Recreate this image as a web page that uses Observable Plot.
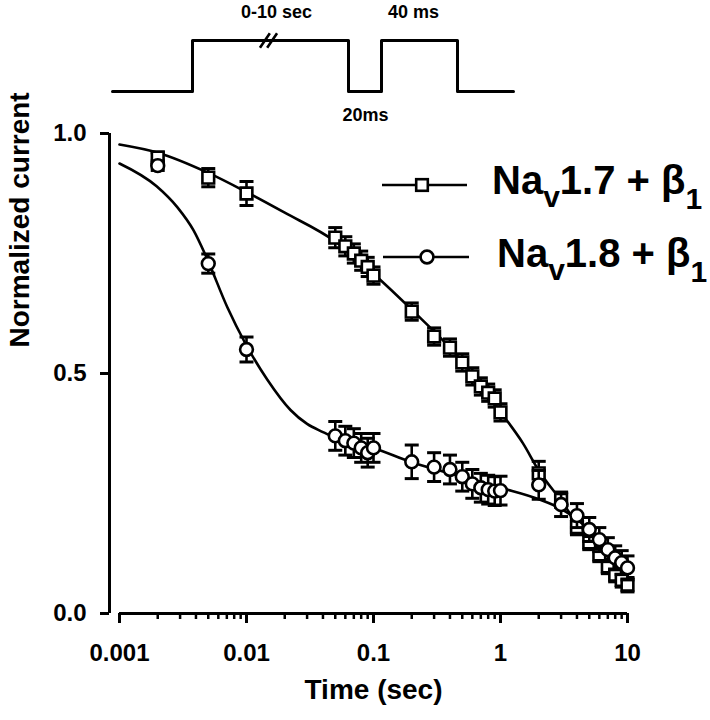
<!DOCTYPE html>
<html>
<head>
<meta charset="utf-8">
<script src="https://cdn.jsdelivr.net/npm/d3@7"></script>
<script src="https://cdn.jsdelivr.net/npm/@observablehq/plot@0.6"></script>
<style>
  html, body { margin: 0; padding: 0; background: #fff; }
  #wrap { position: relative; width: 710px; height: 720px; font-family: "Liberation Sans", Arial, Helvetica, sans-serif; }
  #wrap > * { position: absolute; left: 0; top: 0; }
</style>
</head>
<body>
<div id="wrap"></div>
<script>
// ---- Data: Nav1.7 + β1 (squares) ----
const sqT = [0.002, 0.005, 0.01, 0.05, 0.06, 0.07, 0.08, 0.09, 0.1, 0.2, 0.3, 0.4, 0.5, 0.6, 0.7, 0.8, 0.9, 1, 2, 3, 4, 5, 6, 7, 8, 9, 10];
const sqV = [0.95, 0.908, 0.875, 0.783, 0.765, 0.75, 0.735, 0.722, 0.704, 0.629, 0.577, 0.554, 0.523, 0.494, 0.473, 0.46, 0.448, 0.419, 0.292, 0.237, 0.18, 0.148, 0.123, 0.098, 0.081, 0.07, 0.06];
const sqE = [0.01, 0.019, 0.025, 0.021, 0.02, 0.02, 0.02, 0.02, 0.018, 0.018, 0.018, 0.018, 0.018, 0.018, 0.018, 0.018, 0.018, 0.018, 0.025, 0.016, 0.016, 0.015, 0.015, 0.015, 0.015, 0.015, 0.015];
// fitted curve
const sqFitT = [0.001, 0.002, 0.005, 0.01, 0.02, 0.05, 0.1, 0.2, 0.5, 1, 1.5, 2, 3, 5, 10];
const sqFitV = [0.977, 0.96, 0.918, 0.878, 0.835, 0.775, 0.708, 0.633, 0.525, 0.42, 0.355, 0.298, 0.235, 0.15, 0.062];

// ---- Data: Nav1.8 + β1 (circles) ----
const ciT = [0.002, 0.005, 0.01, 0.05, 0.06, 0.07, 0.08, 0.09, 0.1, 0.2, 0.3, 0.4, 0.5, 0.6, 0.7, 0.8, 0.9, 1, 2, 3, 4, 5, 6, 7, 8, 9, 10];
const ciV = [0.933, 0.729, 0.55, 0.37, 0.36, 0.355, 0.345, 0.335, 0.345, 0.316, 0.305, 0.3, 0.285, 0.27, 0.262, 0.258, 0.255, 0.256, 0.268, 0.227, 0.204, 0.175, 0.154, 0.133, 0.116, 0.106, 0.095];
const ciE = [0.01, 0.02, 0.026, 0.03, 0.03, 0.03, 0.03, 0.03, 0.03, 0.035, 0.03, 0.03, 0.03, 0.03, 0.03, 0.03, 0.03, 0.03, 0.03, 0.025, 0.025, 0.025, 0.025, 0.025, 0.025, 0.025, 0.025];
const ciFitT = [0.001, 0.00196, 0.00286, 0.00383, 0.00484, 0.00708, 0.0098, 0.0146, 0.0222, 0.03, 0.04, 0.05, 0.1, 0.2, 0.5, 1, 2, 3, 5, 10];
const ciFitV = [0.9375, 0.89, 0.846, 0.798, 0.742, 0.6375, 0.5625, 0.487, 0.424, 0.395, 0.378, 0.366, 0.345, 0.315, 0.285, 0.262, 0.238, 0.218, 0.175, 0.095];

// ---- Axes ----
const xTicks = [0.001, 0.01, 0.1, 1, 10];
const xTickLabels = ["0.001", "0.01", "0.1", "1", "10"];
const xMinorTicks = [0.002,0.003,0.004,0.005,0.006,0.007,0.008,0.009,
                     0.02,0.03,0.04,0.05,0.06,0.07,0.08,0.09,
                     0.2,0.3,0.4,0.5,0.6,0.7,0.8,0.9,
                     2,3,4,5,6,7,8,9];
const yTicks = [0, 0.5, 1];
const yTickLabels = ["0.0", "0.5", "1.0"];
const xTitle = "Time (sec)";
const yTitle = "Normalized current";

// ---- Protocol schematic (schematic units) ----
const protoWidths = [80, 156, 33, 76, 56];
const protoLevels = [0, 1, 0, 1, 0];
const protoLabels = ["0-10 sec", "40 ms", "20ms"];

const FONT = '"Liberation Sans", Arial, Helvetica, sans-serif';

const sq = sqT.map((t, i) => ({t, v: sqV[i], e: sqE[i]}));
const ci = ciT.map((t, i) => ({t, v: ciV[i], e: ciE[i]}));
const sqFit = sqFitT.map((t, i) => ({t, v: sqFitV[i]}));
const ciFit = ciFitT.map((t, i) => ({t, v: ciFitV[i]}));

const cap = {
  draw(ctx, size) {
    const w = Math.sqrt(size / Math.PI);
    ctx.moveTo(-w, 0); ctx.lineTo(w, 0);
  }
};
// slanted double-stroke "break" glyph for the protocol line
const breakMark = {
  draw(ctx, size) {
    const r = Math.sqrt(size / Math.PI);
    ctx.moveTo(-r * 0.95, r * 0.8); ctx.lineTo(r * 0.15, -r * 0.8);
    ctx.moveTo(-r * 0.15, r * 0.8); ctx.lineTo(r * 0.95, -r * 0.8);
  }
};

function seriesMarks(data, fit, symbol) {
  return [
    Plot.line(fit, {x: "t", y: "v", curve: "monotone-x", stroke: "black", strokeWidth: 2.6}),
    Plot.ruleX(data, {x: "t", y1: d => d.v - d.e, y2: d => d.v + d.e, stroke: "black", strokeWidth: 2.6}),
    Plot.dot(data, {x: "t", y: d => d.v + d.e, symbol: cap, r: 7, stroke: "black", strokeWidth: 3, fill: "none"}),
    Plot.dot(data, {x: "t", y: d => d.v - d.e, symbol: cap, r: 7, stroke: "black", strokeWidth: 3, fill: "none"}),
    Plot.dot(data, {x: "t", y: "v", symbol, r: symbol === "square" ? 6.6 : 6.4, fill: "white", stroke: "black", strokeWidth: 2.6})
  ];
}

const main = Plot.plot({
  width: 710, height: 720,
  marginLeft: 119, marginRight: 83, marginTop: 133, marginBottom: 107,
  x: {type: "log", domain: [0.001, 10]},
  y: {domain: [0, 1]},
  style: {fontFamily: FONT, background: "white", color: "black"},
  marks: [
    Plot.ruleX([0.001], {y1: 0, y2: 1, dx: -10, stroke: "black", strokeWidth: 3}),
    Plot.ruleY([0], {x1: 0.001, x2: 10, stroke: "black", strokeWidth: 3}),
    Plot.axisY({ticks: yTicks, tickSize: 9, dx: -10, tickPadding: 14, tickFormat: d => yTickLabels[yTicks.indexOf(d)],
                fontSize: 24, fontWeight: "bold", strokeWidth: 3, label: null}),
    Plot.axisX({ticks: xMinorTicks, tickSize: 6, tickFormat: () => "", strokeWidth: 2.5, label: null}),
    Plot.axisX({ticks: xTicks, tickSize: 10, tickPadding: 20, tickFormat: d => xTickLabels[xTicks.indexOf(d)],
                fontSize: 24, fontWeight: "bold", strokeWidth: 3, label: null}),
    Plot.text([yTitle], {frameAnchor: "left", dx: -99, dy: -26, rotate: -90, fontSize: 28, fontWeight: "bold"}),
    Plot.text([xTitle], {frameAnchor: "bottom", dy: 85, fontSize: 28, fontWeight: "bold"}),
    ...seriesMarks(sq, sqFit, "square"),
    ...seriesMarks(ci, ciFit, "circle")
  ]
});

// protocol schematic
let acc = 0;
const protoPts = [];
protoWidths.forEach((w, i) => { protoPts.push({x: acc, y: protoLevels[i]}); acc += w; });
protoPts.push({x: acc, y: protoLevels[protoLevels.length - 1]});
const proto = Plot.plot({
  width: 710, height: 125,
  marginLeft: 112, marginRight: 197, marginTop: 40, marginBottom: 34,
  x: {domain: [0, acc], axis: null},
  y: {domain: [0, 1], axis: null},
  style: {fontFamily: FONT, background: "transparent", color: "black"},
  marks: [
    Plot.line(protoPts, {x: "x", y: "y", curve: "step-after", stroke: "black", strokeWidth: 3}),
    Plot.dot([0], {x: 156, y: 1, symbol: breakMark, r: 9, stroke: "black", strokeWidth: 2.6, fill: "none"}),
    Plot.text([protoLabels[0]], {x: 164, y: 1, dy: -28, fontSize: 18, fontWeight: "bold"}),
    Plot.text([protoLabels[1]], {x: 301, y: 1, dy: -28, fontSize: 18, fontWeight: "bold"}),
    Plot.text([protoLabels[2]], {x: 253, y: 0, dy: 24, fontSize: 18, fontWeight: "bold"})
  ]
});

const wrap = document.getElementById("wrap");
wrap.appendChild(main);
wrap.appendChild(proto);

// legend
const ns = "http://www.w3.org/2000/svg";
const leg = document.createElementNS(ns, "svg");
leg.setAttribute("width", 710); leg.setAttribute("height", 720);
leg.innerHTML = `
  <g stroke="black" stroke-width="2.6" fill="white">
    <line x1="382" x2="467" y1="185" y2="185"/>
    <rect x="416.2" y="179.2" width="11.6" height="11.6"/>
    <line x1="383" x2="469" y1="257" y2="257"/>
    <circle cx="427" cy="257" r="6.4"/>
  </g>
  <g font-family='${FONT}' font-weight="bold" font-size="40" fill="black">
    <text x="492" y="194">Na<tspan font-size="30" dy="13">v</tspan><tspan dy="-13">1.7 + β</tspan><tspan font-size="30" dy="15">1</tspan></text>
    <text x="497" y="267">Na<tspan font-size="30" dy="13">v</tspan><tspan dy="-13">1.8 + β</tspan><tspan font-size="30" dy="15">1</tspan></text>
  </g>`;
wrap.appendChild(leg);
</script>
</body>
</html>
